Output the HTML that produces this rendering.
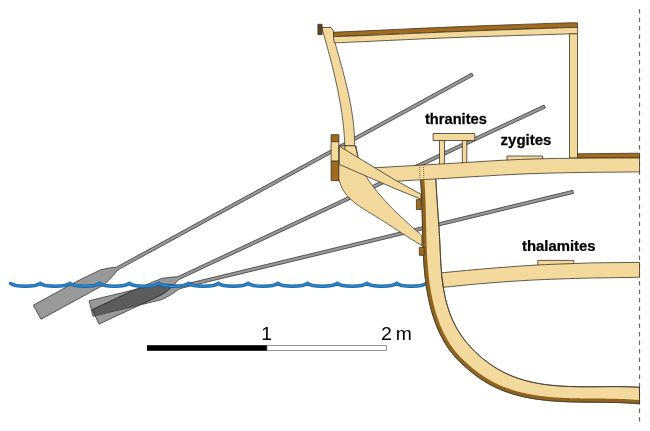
<!DOCTYPE html>
<html><head><meta charset="utf-8"><style>
html,body{margin:0;padding:0;background:#fff;}
svg{display:block;}
text{font-family:"Liberation Sans",sans-serif;}
</style></head><body>
<svg width="650" height="431" viewBox="0 0 650 431">
<defs>
<path id="oar" d="M0 -8 L50 -8 L76 -6.8 Q86 -4 91 -1.55 L496 -1.55 L496 1.55 L91 1.55 Q78 7 70 8 L0 8 Z"/>
<clipPath id="hullclip"><path d="M419.50 167.00 L419.49 168.56 L419.66 170.04 L419.83 171.53 L419.98 173.01 L420.13 174.50 L420.27 175.99 L420.41 177.48 L420.54 178.97 L420.66 180.47 L420.77 181.96 L420.88 183.46 L420.99 184.96 L421.09 186.45 L421.18 187.95 L421.27 189.45 L421.35 190.96 L421.43 192.46 L421.50 193.96 L421.57 195.47 L421.64 196.97 L421.70 198.48 L421.76 199.98 L421.81 201.49 L421.87 203.00 L421.92 204.51 L421.96 206.02 L422.01 207.53 L422.05 209.04 L422.09 210.55 L422.13 212.07 L422.16 213.58 L422.20 215.09 L422.23 216.60 L422.26 218.12 L422.30 219.63 L422.33 221.15 L422.36 222.66 L422.39 224.18 L422.42 225.69 L422.45 227.21 L422.49 228.72 L422.52 230.24 L422.55 231.75 L422.59 233.27 L422.63 234.78 L422.66 236.30 L422.71 237.81 L422.75 239.33 L422.79 240.84 L422.84 242.36 L422.89 243.87 L422.94 245.38 L423.00 246.90 L423.06 248.41 L423.12 249.92 L423.19 251.43 L423.26 252.95 L423.34 254.46 L423.42 255.97 L423.50 257.48 L423.59 258.99 L423.69 260.49 L423.79 262.00 L423.90 263.51 L424.01 265.01 L424.13 266.52 L424.25 268.02 L424.38 269.52 L424.52 271.03 L424.66 272.53 L424.81 274.03 L424.97 275.53 L425.14 277.02 L425.31 278.52 L425.50 280.01 L425.69 281.51 L425.89 283.00 L426.09 284.49 L426.31 285.98 L426.54 287.47 L426.77 288.96 L427.01 290.44 L427.27 291.93 L427.53 293.41 L427.81 294.89 L428.09 296.37 L428.39 297.84 L428.69 299.32 L429.01 300.79 L429.34 302.27 L429.68 303.73 L430.03 305.20 L430.40 306.67 L430.77 308.13 L431.16 309.58 L431.56 311.04 L431.98 312.49 L432.40 313.93 L432.85 315.37 L433.30 316.81 L433.77 318.24 L434.25 319.66 L434.75 321.08 L435.26 322.50 L435.79 323.90 L436.33 325.30 L436.89 326.69 L437.46 328.08 L438.05 329.46 L438.66 330.83 L439.28 332.19 L439.92 333.54 L440.57 334.88 L441.24 336.22 L441.93 337.54 L442.64 338.86 L443.37 340.16 L444.11 341.46 L444.87 342.74 L445.65 344.02 L446.45 345.28 L447.27 346.53 L448.11 347.77 L448.96 348.99 L449.84 350.21 L450.74 351.41 L451.65 352.59 L452.59 353.77 L453.55 354.93 L454.53 356.08 L455.53 357.21 L456.55 358.33 L457.59 359.43 L458.65 360.52 L459.73 361.60 L460.82 362.66 L461.93 363.72 L463.04 364.76 L464.17 365.79 L465.31 366.81 L466.46 367.82 L467.62 368.82 L468.78 369.82 L469.95 370.80 L471.13 371.76 L472.32 372.72 L473.51 373.66 L474.72 374.59 L475.93 375.51 L477.16 376.41 L478.39 377.29 L479.64 378.16 L480.89 379.01 L482.16 379.84 L483.43 380.66 L484.72 381.46 L486.01 382.24 L487.31 383.01 L488.62 383.75 L489.94 384.48 L491.26 385.19 L492.59 385.88 L493.93 386.56 L495.28 387.21 L496.63 387.85 L497.99 388.47 L499.36 389.07 L500.73 389.65 L502.11 390.21 L503.49 390.76 L504.88 391.29 L506.28 391.80 L507.68 392.29 L509.09 392.77 L510.50 393.24 L511.92 393.68 L513.34 394.12 L514.77 394.53 L516.20 394.94 L517.64 395.32 L519.08 395.70 L520.53 396.05 L521.98 396.40 L523.44 396.73 L524.90 397.05 L526.36 397.36 L527.83 397.65 L529.30 397.93 L530.78 398.20 L532.26 398.45 L533.74 398.70 L535.23 398.93 L536.72 399.15 L538.21 399.37 L539.71 399.57 L541.21 399.76 L542.71 399.94 L544.21 400.11 L545.72 400.28 L547.23 400.43 L548.74 400.57 L550.26 400.71 L551.77 400.84 L553.29 400.96 L554.81 401.07 L556.34 401.18 L557.86 401.27 L559.39 401.36 L560.91 401.45 L562.44 401.53 L563.97 401.60 L565.50 401.67 L567.03 401.73 L568.56 401.78 L570.10 401.84 L571.63 401.88 L573.16 401.93 L574.70 401.96 L576.23 402.00 L577.77 402.03 L579.30 402.06 L580.84 402.08 L582.37 402.11 L583.91 402.13 L585.44 402.15 L586.97 402.16 L588.51 402.18 L590.04 402.19 L591.57 402.20 L593.10 402.22 L594.63 402.23 L596.15 402.24 L597.68 402.25 L599.20 402.26 L600.73 402.28 L602.25 402.29 L603.77 402.31 L605.28 402.32 L606.80 402.34 L608.31 402.36 L609.82 402.39 L611.33 402.41 L612.84 402.44 L614.34 402.48 L615.84 402.51 L617.34 402.55 L618.83 402.60 L620.32 402.64 L621.81 402.70 L623.29 402.76 L624.77 402.82 L626.25 402.89 L627.73 402.96 L629.20 403.04 L630.66 403.13 L632.12 403.22 L633.58 403.32 L635.03 403.43 L636.48 403.55 L637.93 403.67 L639.50 403.70 L639.50 387.30 L637.96 387.22 L636.51 387.13 L635.04 387.06 L633.58 386.99 L632.11 386.93 L630.63 386.87 L629.15 386.82 L627.67 386.78 L626.18 386.74 L624.69 386.71 L623.20 386.69 L621.71 386.67 L620.21 386.65 L618.71 386.64 L617.20 386.63 L615.70 386.62 L614.19 386.62 L612.67 386.62 L611.16 386.63 L609.64 386.63 L608.13 386.64 L606.60 386.65 L605.08 386.66 L603.56 386.67 L602.03 386.68 L600.51 386.70 L598.98 386.71 L597.45 386.72 L595.92 386.73 L594.39 386.74 L592.86 386.75 L591.32 386.76 L589.79 386.76 L588.26 386.77 L586.72 386.77 L585.19 386.76 L583.66 386.76 L582.12 386.75 L580.59 386.73 L579.06 386.72 L577.52 386.69 L575.99 386.67 L574.46 386.63 L572.93 386.59 L571.40 386.55 L569.87 386.50 L568.34 386.44 L566.81 386.38 L565.29 386.31 L563.77 386.23 L562.24 386.14 L560.72 386.05 L559.21 385.94 L557.69 385.83 L556.18 385.71 L554.67 385.58 L553.16 385.44 L551.65 385.29 L550.15 385.13 L548.65 384.96 L547.15 384.77 L545.65 384.58 L544.16 384.37 L542.67 384.15 L541.19 383.92 L539.71 383.68 L538.23 383.42 L536.76 383.15 L535.29 382.87 L533.82 382.57 L532.36 382.26 L530.90 381.94 L529.45 381.59 L528.00 381.24 L526.56 380.86 L525.12 380.48 L523.68 380.07 L522.25 379.65 L520.83 379.21 L519.41 378.76 L518.00 378.28 L516.59 377.79 L515.19 377.28 L513.79 376.75 L512.40 376.21 L511.02 375.64 L509.64 375.06 L508.27 374.45 L506.90 373.82 L505.54 373.18 L504.19 372.51 L502.85 371.83 L501.51 371.13 L500.18 370.40 L498.86 369.66 L497.55 368.90 L496.25 368.12 L494.95 367.33 L493.67 366.51 L492.39 365.68 L491.13 364.83 L489.87 363.97 L488.63 363.09 L487.39 362.19 L486.17 361.27 L484.96 360.34 L483.76 359.40 L482.57 358.43 L481.40 357.46 L480.24 356.47 L479.09 355.46 L477.95 354.44 L476.83 353.40 L475.72 352.35 L474.62 351.29 L473.54 350.21 L472.48 349.12 L471.43 348.02 L470.39 346.90 L469.37 345.78 L468.37 344.64 L467.38 343.48 L466.41 342.32 L465.46 341.14 L464.53 339.95 L463.61 338.75 L462.72 337.53 L461.84 336.31 L460.98 335.07 L460.14 333.82 L459.33 332.56 L458.53 331.29 L457.76 330.01 L457.00 328.72 L456.27 327.41 L455.56 326.10 L454.87 324.77 L454.20 323.44 L453.56 322.10 L452.93 320.75 L452.32 319.38 L451.73 318.01 L451.16 316.64 L450.61 315.25 L450.08 313.85 L449.57 312.45 L449.07 311.04 L448.59 309.63 L448.13 308.20 L447.69 306.77 L447.26 305.34 L446.85 303.89 L446.46 302.45 L446.08 300.99 L445.72 299.53 L445.38 298.07 L445.04 296.60 L444.73 295.13 L444.43 293.65 L444.14 292.17 L443.86 290.69 L443.60 289.20 L443.36 287.71 L443.12 286.22 L442.90 284.72 L442.69 283.22 L442.50 281.72 L442.31 280.22 L442.14 278.72 L441.97 277.21 L441.82 275.71 L441.67 274.20 L441.53 272.69 L441.41 271.17 L441.28 269.66 L441.17 268.15 L441.06 266.63 L440.96 265.12 L440.87 263.60 L440.78 262.08 L440.69 260.56 L440.61 259.05 L440.53 257.53 L440.45 256.01 L440.38 254.49 L440.31 252.97 L440.24 251.45 L440.17 249.93 L440.10 248.41 L440.03 246.90 L439.97 245.38 L439.89 243.86 L439.82 242.35 L439.75 240.83 L439.67 239.32 L439.59 237.81 L439.51 236.30 L439.42 234.79 L439.33 233.28 L439.24 231.77 L439.15 230.26 L439.05 228.75 L438.96 227.25 L438.86 225.74 L438.76 224.24 L438.66 222.73 L438.56 221.23 L438.45 219.72 L438.35 218.22 L438.24 216.72 L438.14 215.22 L438.03 213.71 L437.92 212.21 L437.82 210.71 L437.71 209.21 L437.60 207.71 L437.50 206.21 L437.39 204.70 L437.29 203.20 L437.18 201.70 L437.08 200.20 L436.98 198.70 L436.88 197.19 L436.78 195.69 L436.69 194.19 L436.59 192.68 L436.50 191.18 L436.41 189.67 L436.32 188.17 L436.24 186.66 L436.15 185.16 L436.07 183.65 L436.00 182.14 L435.92 180.63 L435.85 179.12 L435.79 177.61 L435.72 176.10 L435.66 174.58 L435.61 173.07 L435.56 171.55 L435.51 170.03 L435.47 168.52 L435.50 167.00 Z"/></clipPath>
</defs>
<rect width="650" height="431" fill="#fff"/>
<line x1="639.5" y1="9" x2="639.5" y2="422" stroke="#6a6a6a" stroke-width="1.2" stroke-dasharray="4.5 4"/>

<g fill="#000" fill-opacity="0.4" stroke="#444" stroke-width="0.8">
<use href="#oar" transform="translate(37.15 312.2) rotate(-28.64)"/>
<use href="#oar" transform="translate(95.65 316.85) rotate(-25.1)"/>
<use href="#oar" transform="translate(91.05 308.5) rotate(-13.6)"/>
</g>
<path fill="none" stroke="#1d65a6" stroke-width="3.3" stroke-linejoin="miter" stroke-linecap="round" stroke-miterlimit="4" d="M10.5 283.4 C15.5 287.2 35.2 287.2 40.2 283.4 C45.2 287.2 64.9 287.2 69.9 283.4 C74.9 287.2 94.6 287.2 99.6 283.4 C104.6 287.2 124.3 287.2 129.3 283.4 C134.3 287.2 154.0 287.2 159.0 283.4 C164.0 287.2 183.7 287.2 188.7 283.4 C193.7 287.2 213.4 287.2 218.4 283.4 C223.4 287.2 243.1 287.2 248.1 283.4 C253.1 287.2 272.8 287.2 277.8 283.4 C282.8 287.2 302.5 287.2 307.5 283.4 C312.5 287.2 332.2 287.2 337.2 283.4 C342.2 287.2 361.9 287.2 366.9 283.4 C371.9 287.2 391.6 287.2 396.6 283.4 C401.6 287.2 421.3 287.2 426.3 283.4 "/>
<path fill="none" stroke="#2a8ccc" stroke-width="1.5" stroke-linejoin="miter" stroke-linecap="round" stroke-miterlimit="4" d="M10.5 283.4 C15.5 287.2 35.2 287.2 40.2 283.4 C45.2 287.2 64.9 287.2 69.9 283.4 C74.9 287.2 94.6 287.2 99.6 283.4 C104.6 287.2 124.3 287.2 129.3 283.4 C134.3 287.2 154.0 287.2 159.0 283.4 C164.0 287.2 183.7 287.2 188.7 283.4 C193.7 287.2 213.4 287.2 218.4 283.4 C223.4 287.2 243.1 287.2 248.1 283.4 C253.1 287.2 272.8 287.2 277.8 283.4 C282.8 287.2 302.5 287.2 307.5 283.4 C312.5 287.2 332.2 287.2 337.2 283.4 C342.2 287.2 361.9 287.2 366.9 283.4 C371.9 287.2 391.6 287.2 396.6 283.4 C401.6 287.2 421.3 287.2 426.3 283.4 "/>
<g stroke="#3d3426" stroke-width="0.8" stroke-linejoin="round">
<path fill="#f3da9c" d="M321.8 27.5 L331 27.5 L333.5 31 L334 36 L334.33 40.00 L334.73 41.46 L335.14 42.93 L335.54 44.39 L335.95 45.86 L336.36 47.33 L336.76 48.79 L337.17 50.26 L337.58 51.73 L337.99 53.20 L338.40 54.67 L338.81 56.14 L339.21 57.61 L339.62 59.08 L340.02 60.55 L340.43 62.02 L340.83 63.49 L341.23 64.97 L341.63 66.44 L342.03 67.92 L342.43 69.39 L342.82 70.87 L343.21 72.35 L343.59 73.82 L343.98 75.30 L344.36 76.78 L344.74 78.26 L345.11 79.74 L345.48 81.23 L345.84 82.71 L346.20 84.19 L346.56 85.68 L346.91 87.16 L347.26 88.65 L347.60 90.14 L347.93 91.63 L348.26 93.12 L348.59 94.61 L348.91 96.10 L349.22 97.59 L349.52 99.09 L349.82 100.58 L350.11 102.08 L350.40 103.58 L350.68 105.07 L350.95 106.57 L351.21 108.07 L351.46 109.58 L351.71 111.08 L351.94 112.58 L352.17 114.09 L352.39 115.59 L352.60 117.10 L352.80 118.61 L353.00 120.12 L353.18 121.63 L353.35 123.15 L353.51 124.66 L353.66 126.18 L353.81 127.69 L353.94 129.21 L354.06 130.73 L354.17 132.25 L354.26 133.78 L354.35 135.30 L354.42 136.83 L354.48 138.35 L354.53 139.88 L354.57 141.41 L354.60 142.94 L354.61 144.48 L354.61 146.01  L344.9 146 L344.86 146.02 L344.80 144.49 L344.72 142.96 L344.65 141.43 L344.56 139.91 L344.46 138.38 L344.36 136.85 L344.25 135.33 L344.13 133.81 L344.00 132.28 L343.87 130.76 L343.73 129.24 L343.58 127.72 L343.42 126.21 L343.26 124.69 L343.09 123.17 L342.91 121.66 L342.73 120.15 L342.54 118.63 L342.34 117.12 L342.14 115.61 L341.92 114.10 L341.71 112.59 L341.48 111.08 L341.25 109.58 L341.02 108.07 L340.78 106.57 L340.53 105.07 L340.27 103.56 L340.01 102.06 L339.75 100.56 L339.48 99.06 L339.20 97.56 L338.92 96.06 L338.63 94.57 L338.34 93.07 L338.05 91.58 L337.74 90.08 L337.44 88.59 L337.13 87.10 L336.81 85.61 L336.49 84.12 L336.16 82.63 L335.83 81.14 L335.50 79.65 L335.16 78.16 L334.82 76.68 L334.47 75.19 L334.12 73.71 L333.77 72.22 L333.41 70.74 L333.05 69.26 L332.69 67.78 L332.32 66.30 L331.95 64.82 L331.58 63.34 L331.20 61.86 L330.82 60.39 L330.43 58.91 L330.05 57.44 L329.66 55.96 L329.27 54.49 L328.87 53.02 L328.48 51.54 L328.08 50.07 L327.68 48.60 L327.27 47.13 L326.87 45.66 L326.46 44.20 L326.05 42.73 L325.64 41.26 L325.23 39.79 L324.82 38.33 L324.40 36.86 L323.98 35.40 L323.57 33.94 L323.15 32.48 L322.73 31.01 L322.31 29.55 L321.88 28.09 Z"/>
<rect x="317.9" y="24.3" width="4.2" height="10.4" fill="#5e4322"/>
<path fill="#a06a1f" d="M333.50 32.20 C338.92 31.97 345.58 31.70 366.00 30.80 C386.42 29.90 424.33 28.07 456.00 26.80 C487.67 25.53 535.73 23.87 556.00 23.20 C576.27 22.53 574.00 22.87 577.60 22.80 L577.60 27.50 C574.00 27.58 576.27 27.32 556.00 28.00 C535.73 28.68 487.67 30.35 456.00 31.60 C424.33 32.85 386.42 34.67 366.00 35.50 C345.58 36.33 338.92 36.42 333.50 36.60 Z"/>
<path fill="#f3da9c" d="M333.50 36.60 C338.92 36.42 345.58 36.33 366.00 35.50 C386.42 34.67 424.33 32.85 456.00 31.60 C487.67 30.35 535.73 28.68 556.00 28.00 C576.27 27.32 574.00 27.58 577.60 27.50 L577.60 33.80 C574.00 33.88 576.27 33.68 556.00 34.30 C535.73 34.92 487.67 36.30 456.00 37.50 C424.33 38.70 386.28 40.60 366.00 41.50 C345.72 42.40 339.58 42.67 334.30 42.90 Z"/>
<rect x="569.5" y="33.8" width="8" height="124.2" fill="#f3da9c"/>
<path fill="#a06a1f" d="M577.5 153.8 L639.5 153.2 L639.5 158 L577.5 158 Z"/>
<rect x="331.1" y="134.7" width="7.8" height="7" fill="#a06a1f"/>
<rect x="331.1" y="141.7" width="7.8" height="19.5" fill="#f3da9c"/>
<rect x="331.1" y="161.2" width="7.8" height="19.5" fill="#a06a1f"/>
<path fill="#f3da9c" d="M419.50 167.00 L419.49 168.56 L419.66 170.04 L419.83 171.53 L419.98 173.01 L420.13 174.50 L420.27 175.99 L420.41 177.48 L420.54 178.97 L420.66 180.47 L420.77 181.96 L420.88 183.46 L420.99 184.96 L421.09 186.45 L421.18 187.95 L421.27 189.45 L421.35 190.96 L421.43 192.46 L421.50 193.96 L421.57 195.47 L421.64 196.97 L421.70 198.48 L421.76 199.98 L421.81 201.49 L421.87 203.00 L421.92 204.51 L421.96 206.02 L422.01 207.53 L422.05 209.04 L422.09 210.55 L422.13 212.07 L422.16 213.58 L422.20 215.09 L422.23 216.60 L422.26 218.12 L422.30 219.63 L422.33 221.15 L422.36 222.66 L422.39 224.18 L422.42 225.69 L422.45 227.21 L422.49 228.72 L422.52 230.24 L422.55 231.75 L422.59 233.27 L422.63 234.78 L422.66 236.30 L422.71 237.81 L422.75 239.33 L422.79 240.84 L422.84 242.36 L422.89 243.87 L422.94 245.38 L423.00 246.90 L423.06 248.41 L423.12 249.92 L423.19 251.43 L423.26 252.95 L423.34 254.46 L423.42 255.97 L423.50 257.48 L423.59 258.99 L423.69 260.49 L423.79 262.00 L423.90 263.51 L424.01 265.01 L424.13 266.52 L424.25 268.02 L424.38 269.52 L424.52 271.03 L424.66 272.53 L424.81 274.03 L424.97 275.53 L425.14 277.02 L425.31 278.52 L425.50 280.01 L425.69 281.51 L425.89 283.00 L426.09 284.49 L426.31 285.98 L426.54 287.47 L426.77 288.96 L427.01 290.44 L427.27 291.93 L427.53 293.41 L427.81 294.89 L428.09 296.37 L428.39 297.84 L428.69 299.32 L429.01 300.79 L429.34 302.27 L429.68 303.73 L430.03 305.20 L430.40 306.67 L430.77 308.13 L431.16 309.58 L431.56 311.04 L431.98 312.49 L432.40 313.93 L432.85 315.37 L433.30 316.81 L433.77 318.24 L434.25 319.66 L434.75 321.08 L435.26 322.50 L435.79 323.90 L436.33 325.30 L436.89 326.69 L437.46 328.08 L438.05 329.46 L438.66 330.83 L439.28 332.19 L439.92 333.54 L440.57 334.88 L441.24 336.22 L441.93 337.54 L442.64 338.86 L443.37 340.16 L444.11 341.46 L444.87 342.74 L445.65 344.02 L446.45 345.28 L447.27 346.53 L448.11 347.77 L448.96 348.99 L449.84 350.21 L450.74 351.41 L451.65 352.59 L452.59 353.77 L453.55 354.93 L454.53 356.08 L455.53 357.21 L456.55 358.33 L457.59 359.43 L458.65 360.52 L459.73 361.60 L460.82 362.66 L461.93 363.72 L463.04 364.76 L464.17 365.79 L465.31 366.81 L466.46 367.82 L467.62 368.82 L468.78 369.82 L469.95 370.80 L471.13 371.76 L472.32 372.72 L473.51 373.66 L474.72 374.59 L475.93 375.51 L477.16 376.41 L478.39 377.29 L479.64 378.16 L480.89 379.01 L482.16 379.84 L483.43 380.66 L484.72 381.46 L486.01 382.24 L487.31 383.01 L488.62 383.75 L489.94 384.48 L491.26 385.19 L492.59 385.88 L493.93 386.56 L495.28 387.21 L496.63 387.85 L497.99 388.47 L499.36 389.07 L500.73 389.65 L502.11 390.21 L503.49 390.76 L504.88 391.29 L506.28 391.80 L507.68 392.29 L509.09 392.77 L510.50 393.24 L511.92 393.68 L513.34 394.12 L514.77 394.53 L516.20 394.94 L517.64 395.32 L519.08 395.70 L520.53 396.05 L521.98 396.40 L523.44 396.73 L524.90 397.05 L526.36 397.36 L527.83 397.65 L529.30 397.93 L530.78 398.20 L532.26 398.45 L533.74 398.70 L535.23 398.93 L536.72 399.15 L538.21 399.37 L539.71 399.57 L541.21 399.76 L542.71 399.94 L544.21 400.11 L545.72 400.28 L547.23 400.43 L548.74 400.57 L550.26 400.71 L551.77 400.84 L553.29 400.96 L554.81 401.07 L556.34 401.18 L557.86 401.27 L559.39 401.36 L560.91 401.45 L562.44 401.53 L563.97 401.60 L565.50 401.67 L567.03 401.73 L568.56 401.78 L570.10 401.84 L571.63 401.88 L573.16 401.93 L574.70 401.96 L576.23 402.00 L577.77 402.03 L579.30 402.06 L580.84 402.08 L582.37 402.11 L583.91 402.13 L585.44 402.15 L586.97 402.16 L588.51 402.18 L590.04 402.19 L591.57 402.20 L593.10 402.22 L594.63 402.23 L596.15 402.24 L597.68 402.25 L599.20 402.26 L600.73 402.28 L602.25 402.29 L603.77 402.31 L605.28 402.32 L606.80 402.34 L608.31 402.36 L609.82 402.39 L611.33 402.41 L612.84 402.44 L614.34 402.48 L615.84 402.51 L617.34 402.55 L618.83 402.60 L620.32 402.64 L621.81 402.70 L623.29 402.76 L624.77 402.82 L626.25 402.89 L627.73 402.96 L629.20 403.04 L630.66 403.13 L632.12 403.22 L633.58 403.32 L635.03 403.43 L636.48 403.55 L637.93 403.67 L639.50 403.70 L639.50 387.30 L637.96 387.22 L636.51 387.13 L635.04 387.06 L633.58 386.99 L632.11 386.93 L630.63 386.87 L629.15 386.82 L627.67 386.78 L626.18 386.74 L624.69 386.71 L623.20 386.69 L621.71 386.67 L620.21 386.65 L618.71 386.64 L617.20 386.63 L615.70 386.62 L614.19 386.62 L612.67 386.62 L611.16 386.63 L609.64 386.63 L608.13 386.64 L606.60 386.65 L605.08 386.66 L603.56 386.67 L602.03 386.68 L600.51 386.70 L598.98 386.71 L597.45 386.72 L595.92 386.73 L594.39 386.74 L592.86 386.75 L591.32 386.76 L589.79 386.76 L588.26 386.77 L586.72 386.77 L585.19 386.76 L583.66 386.76 L582.12 386.75 L580.59 386.73 L579.06 386.72 L577.52 386.69 L575.99 386.67 L574.46 386.63 L572.93 386.59 L571.40 386.55 L569.87 386.50 L568.34 386.44 L566.81 386.38 L565.29 386.31 L563.77 386.23 L562.24 386.14 L560.72 386.05 L559.21 385.94 L557.69 385.83 L556.18 385.71 L554.67 385.58 L553.16 385.44 L551.65 385.29 L550.15 385.13 L548.65 384.96 L547.15 384.77 L545.65 384.58 L544.16 384.37 L542.67 384.15 L541.19 383.92 L539.71 383.68 L538.23 383.42 L536.76 383.15 L535.29 382.87 L533.82 382.57 L532.36 382.26 L530.90 381.94 L529.45 381.59 L528.00 381.24 L526.56 380.86 L525.12 380.48 L523.68 380.07 L522.25 379.65 L520.83 379.21 L519.41 378.76 L518.00 378.28 L516.59 377.79 L515.19 377.28 L513.79 376.75 L512.40 376.21 L511.02 375.64 L509.64 375.06 L508.27 374.45 L506.90 373.82 L505.54 373.18 L504.19 372.51 L502.85 371.83 L501.51 371.13 L500.18 370.40 L498.86 369.66 L497.55 368.90 L496.25 368.12 L494.95 367.33 L493.67 366.51 L492.39 365.68 L491.13 364.83 L489.87 363.97 L488.63 363.09 L487.39 362.19 L486.17 361.27 L484.96 360.34 L483.76 359.40 L482.57 358.43 L481.40 357.46 L480.24 356.47 L479.09 355.46 L477.95 354.44 L476.83 353.40 L475.72 352.35 L474.62 351.29 L473.54 350.21 L472.48 349.12 L471.43 348.02 L470.39 346.90 L469.37 345.78 L468.37 344.64 L467.38 343.48 L466.41 342.32 L465.46 341.14 L464.53 339.95 L463.61 338.75 L462.72 337.53 L461.84 336.31 L460.98 335.07 L460.14 333.82 L459.33 332.56 L458.53 331.29 L457.76 330.01 L457.00 328.72 L456.27 327.41 L455.56 326.10 L454.87 324.77 L454.20 323.44 L453.56 322.10 L452.93 320.75 L452.32 319.38 L451.73 318.01 L451.16 316.64 L450.61 315.25 L450.08 313.85 L449.57 312.45 L449.07 311.04 L448.59 309.63 L448.13 308.20 L447.69 306.77 L447.26 305.34 L446.85 303.89 L446.46 302.45 L446.08 300.99 L445.72 299.53 L445.38 298.07 L445.04 296.60 L444.73 295.13 L444.43 293.65 L444.14 292.17 L443.86 290.69 L443.60 289.20 L443.36 287.71 L443.12 286.22 L442.90 284.72 L442.69 283.22 L442.50 281.72 L442.31 280.22 L442.14 278.72 L441.97 277.21 L441.82 275.71 L441.67 274.20 L441.53 272.69 L441.41 271.17 L441.28 269.66 L441.17 268.15 L441.06 266.63 L440.96 265.12 L440.87 263.60 L440.78 262.08 L440.69 260.56 L440.61 259.05 L440.53 257.53 L440.45 256.01 L440.38 254.49 L440.31 252.97 L440.24 251.45 L440.17 249.93 L440.10 248.41 L440.03 246.90 L439.97 245.38 L439.89 243.86 L439.82 242.35 L439.75 240.83 L439.67 239.32 L439.59 237.81 L439.51 236.30 L439.42 234.79 L439.33 233.28 L439.24 231.77 L439.15 230.26 L439.05 228.75 L438.96 227.25 L438.86 225.74 L438.76 224.24 L438.66 222.73 L438.56 221.23 L438.45 219.72 L438.35 218.22 L438.24 216.72 L438.14 215.22 L438.03 213.71 L437.92 212.21 L437.82 210.71 L437.71 209.21 L437.60 207.71 L437.50 206.21 L437.39 204.70 L437.29 203.20 L437.18 201.70 L437.08 200.20 L436.98 198.70 L436.88 197.19 L436.78 195.69 L436.69 194.19 L436.59 192.68 L436.50 191.18 L436.41 189.67 L436.32 188.17 L436.24 186.66 L436.15 185.16 L436.07 183.65 L436.00 182.14 L435.92 180.63 L435.85 179.12 L435.79 177.61 L435.72 176.10 L435.66 174.58 L435.61 173.07 L435.56 171.55 L435.51 170.03 L435.47 168.52 L435.50 167.00 Z"/>
</g>
<path d="M419.50 167.00 L419.49 168.56 L419.66 170.04 L419.83 171.53 L419.98 173.01 L420.13 174.50 L420.27 175.99 L420.41 177.48 L420.54 178.97 L420.66 180.47 L420.77 181.96 L420.88 183.46 L420.99 184.96 L421.09 186.45 L421.18 187.95 L421.27 189.45 L421.35 190.96 L421.43 192.46 L421.50 193.96 L421.57 195.47 L421.64 196.97 L421.70 198.48 L421.76 199.98 L421.81 201.49 L421.87 203.00 L421.92 204.51 L421.96 206.02 L422.01 207.53 L422.05 209.04 L422.09 210.55 L422.13 212.07 L422.16 213.58 L422.20 215.09 L422.23 216.60 L422.26 218.12 L422.30 219.63 L422.33 221.15 L422.36 222.66 L422.39 224.18 L422.42 225.69 L422.45 227.21 L422.49 228.72 L422.52 230.24 L422.55 231.75 L422.59 233.27 L422.63 234.78 L422.66 236.30 L422.71 237.81 L422.75 239.33 L422.79 240.84 L422.84 242.36 L422.89 243.87 L422.94 245.38 L423.00 246.90 L423.06 248.41 L423.12 249.92 L423.19 251.43 L423.26 252.95 L423.34 254.46 L423.42 255.97 L423.50 257.48 L423.59 258.99 L423.69 260.49 L423.79 262.00 L423.90 263.51 L424.01 265.01 L424.13 266.52 L424.25 268.02 L424.38 269.52 L424.52 271.03 L424.66 272.53 L424.81 274.03 L424.97 275.53 L425.14 277.02 L425.31 278.52 L425.50 280.01 L425.69 281.51 L425.89 283.00 L426.09 284.49 L426.31 285.98 L426.54 287.47 L426.77 288.96 L427.01 290.44 L427.27 291.93 L427.53 293.41 L427.81 294.89 L428.09 296.37 L428.39 297.84 L428.69 299.32 L429.01 300.79 L429.34 302.27 L429.68 303.73 L430.03 305.20 L430.40 306.67 L430.77 308.13 L431.16 309.58 L431.56 311.04 L431.98 312.49 L432.40 313.93 L432.85 315.37 L433.30 316.81 L433.77 318.24 L434.25 319.66 L434.75 321.08 L435.26 322.50 L435.79 323.90 L436.33 325.30 L436.89 326.69 L437.46 328.08 L438.05 329.46 L438.66 330.83 L439.28 332.19 L439.92 333.54 L440.57 334.88 L441.24 336.22 L441.93 337.54 L442.64 338.86 L443.37 340.16 L444.11 341.46 L444.87 342.74 L445.65 344.02 L446.45 345.28 L447.27 346.53 L448.11 347.77 L448.96 348.99 L449.84 350.21 L450.74 351.41 L451.65 352.59 L452.59 353.77 L453.55 354.93 L454.53 356.08 L455.53 357.21 L456.55 358.33 L457.59 359.43 L458.65 360.52 L459.73 361.60 L460.82 362.66 L461.93 363.72 L463.04 364.76 L464.17 365.79 L465.31 366.81 L466.46 367.82 L467.62 368.82 L468.78 369.82 L469.95 370.80 L471.13 371.76 L472.32 372.72 L473.51 373.66 L474.72 374.59 L475.93 375.51 L477.16 376.41 L478.39 377.29 L479.64 378.16 L480.89 379.01 L482.16 379.84 L483.43 380.66 L484.72 381.46 L486.01 382.24 L487.31 383.01 L488.62 383.75 L489.94 384.48 L491.26 385.19 L492.59 385.88 L493.93 386.56 L495.28 387.21 L496.63 387.85 L497.99 388.47 L499.36 389.07 L500.73 389.65 L502.11 390.21 L503.49 390.76 L504.88 391.29 L506.28 391.80 L507.68 392.29 L509.09 392.77 L510.50 393.24 L511.92 393.68 L513.34 394.12 L514.77 394.53 L516.20 394.94 L517.64 395.32 L519.08 395.70 L520.53 396.05 L521.98 396.40 L523.44 396.73 L524.90 397.05 L526.36 397.36 L527.83 397.65 L529.30 397.93 L530.78 398.20 L532.26 398.45 L533.74 398.70 L535.23 398.93 L536.72 399.15 L538.21 399.37 L539.71 399.57 L541.21 399.76 L542.71 399.94 L544.21 400.11 L545.72 400.28 L547.23 400.43 L548.74 400.57 L550.26 400.71 L551.77 400.84 L553.29 400.96 L554.81 401.07 L556.34 401.18 L557.86 401.27 L559.39 401.36 L560.91 401.45 L562.44 401.53 L563.97 401.60 L565.50 401.67 L567.03 401.73 L568.56 401.78 L570.10 401.84 L571.63 401.88 L573.16 401.93 L574.70 401.96 L576.23 402.00 L577.77 402.03 L579.30 402.06 L580.84 402.08 L582.37 402.11 L583.91 402.13 L585.44 402.15 L586.97 402.16 L588.51 402.18 L590.04 402.19 L591.57 402.20 L593.10 402.22 L594.63 402.23 L596.15 402.24 L597.68 402.25 L599.20 402.26 L600.73 402.28 L602.25 402.29 L603.77 402.31 L605.28 402.32 L606.80 402.34 L608.31 402.36 L609.82 402.39 L611.33 402.41 L612.84 402.44 L614.34 402.48 L615.84 402.51 L617.34 402.55 L618.83 402.60 L620.32 402.64 L621.81 402.70 L623.29 402.76 L624.77 402.82 L626.25 402.89 L627.73 402.96 L629.20 403.04 L630.66 403.13 L632.12 403.22 L633.58 403.32 L635.03 403.43 L636.48 403.55 L637.93 403.67 L639.50 403.70 " fill="none" stroke="#8f6420" stroke-width="7.4" clip-path="url(#hullclip)"/>
<path d="M419.50 167.00 L419.49 168.56 L419.66 170.04 L419.83 171.53 L419.98 173.01 L420.13 174.50 L420.27 175.99 L420.41 177.48 L420.54 178.97 L420.66 180.47 L420.77 181.96 L420.88 183.46 L420.99 184.96 L421.09 186.45 L421.18 187.95 L421.27 189.45 L421.35 190.96 L421.43 192.46 L421.50 193.96 L421.57 195.47 L421.64 196.97 L421.70 198.48 L421.76 199.98 L421.81 201.49 L421.87 203.00 L421.92 204.51 L421.96 206.02 L422.01 207.53 L422.05 209.04 L422.09 210.55 L422.13 212.07 L422.16 213.58 L422.20 215.09 L422.23 216.60 L422.26 218.12 L422.30 219.63 L422.33 221.15 L422.36 222.66 L422.39 224.18 L422.42 225.69 L422.45 227.21 L422.49 228.72 L422.52 230.24 L422.55 231.75 L422.59 233.27 L422.63 234.78 L422.66 236.30 L422.71 237.81 L422.75 239.33 L422.79 240.84 L422.84 242.36 L422.89 243.87 L422.94 245.38 L423.00 246.90 L423.06 248.41 L423.12 249.92 L423.19 251.43 L423.26 252.95 L423.34 254.46 L423.42 255.97 L423.50 257.48 L423.59 258.99 L423.69 260.49 L423.79 262.00 L423.90 263.51 L424.01 265.01 L424.13 266.52 L424.25 268.02 L424.38 269.52 L424.52 271.03 L424.66 272.53 L424.81 274.03 L424.97 275.53 L425.14 277.02 L425.31 278.52 L425.50 280.01 L425.69 281.51 L425.89 283.00 L426.09 284.49 L426.31 285.98 L426.54 287.47 L426.77 288.96 L427.01 290.44 L427.27 291.93 L427.53 293.41 L427.81 294.89 L428.09 296.37 L428.39 297.84 L428.69 299.32 L429.01 300.79 L429.34 302.27 L429.68 303.73 L430.03 305.20 L430.40 306.67 L430.77 308.13 L431.16 309.58 L431.56 311.04 L431.98 312.49 L432.40 313.93 L432.85 315.37 L433.30 316.81 L433.77 318.24 L434.25 319.66 L434.75 321.08 L435.26 322.50 L435.79 323.90 L436.33 325.30 L436.89 326.69 L437.46 328.08 L438.05 329.46 L438.66 330.83 L439.28 332.19 L439.92 333.54 L440.57 334.88 L441.24 336.22 L441.93 337.54 L442.64 338.86 L443.37 340.16 L444.11 341.46 L444.87 342.74 L445.65 344.02 L446.45 345.28 L447.27 346.53 L448.11 347.77 L448.96 348.99 L449.84 350.21 L450.74 351.41 L451.65 352.59 L452.59 353.77 L453.55 354.93 L454.53 356.08 L455.53 357.21 L456.55 358.33 L457.59 359.43 L458.65 360.52 L459.73 361.60 L460.82 362.66 L461.93 363.72 L463.04 364.76 L464.17 365.79 L465.31 366.81 L466.46 367.82 L467.62 368.82 L468.78 369.82 L469.95 370.80 L471.13 371.76 L472.32 372.72 L473.51 373.66 L474.72 374.59 L475.93 375.51 L477.16 376.41 L478.39 377.29 L479.64 378.16 L480.89 379.01 L482.16 379.84 L483.43 380.66 L484.72 381.46 L486.01 382.24 L487.31 383.01 L488.62 383.75 L489.94 384.48 L491.26 385.19 L492.59 385.88 L493.93 386.56 L495.28 387.21 L496.63 387.85 L497.99 388.47 L499.36 389.07 L500.73 389.65 L502.11 390.21 L503.49 390.76 L504.88 391.29 L506.28 391.80 L507.68 392.29 L509.09 392.77 L510.50 393.24 L511.92 393.68 L513.34 394.12 L514.77 394.53 L516.20 394.94 L517.64 395.32 L519.08 395.70 L520.53 396.05 L521.98 396.40 L523.44 396.73 L524.90 397.05 L526.36 397.36 L527.83 397.65 L529.30 397.93 L530.78 398.20 L532.26 398.45 L533.74 398.70 L535.23 398.93 L536.72 399.15 L538.21 399.37 L539.71 399.57 L541.21 399.76 L542.71 399.94 L544.21 400.11 L545.72 400.28 L547.23 400.43 L548.74 400.57 L550.26 400.71 L551.77 400.84 L553.29 400.96 L554.81 401.07 L556.34 401.18 L557.86 401.27 L559.39 401.36 L560.91 401.45 L562.44 401.53 L563.97 401.60 L565.50 401.67 L567.03 401.73 L568.56 401.78 L570.10 401.84 L571.63 401.88 L573.16 401.93 L574.70 401.96 L576.23 402.00 L577.77 402.03 L579.30 402.06 L580.84 402.08 L582.37 402.11 L583.91 402.13 L585.44 402.15 L586.97 402.16 L588.51 402.18 L590.04 402.19 L591.57 402.20 L593.10 402.22 L594.63 402.23 L596.15 402.24 L597.68 402.25 L599.20 402.26 L600.73 402.28 L602.25 402.29 L603.77 402.31 L605.28 402.32 L606.80 402.34 L608.31 402.36 L609.82 402.39 L611.33 402.41 L612.84 402.44 L614.34 402.48 L615.84 402.51 L617.34 402.55 L618.83 402.60 L620.32 402.64 L621.81 402.70 L623.29 402.76 L624.77 402.82 L626.25 402.89 L627.73 402.96 L629.20 403.04 L630.66 403.13 L632.12 403.22 L633.58 403.32 L635.03 403.43 L636.48 403.55 L637.93 403.67 L639.50 403.70 L639.50 387.30 L637.96 387.22 L636.51 387.13 L635.04 387.06 L633.58 386.99 L632.11 386.93 L630.63 386.87 L629.15 386.82 L627.67 386.78 L626.18 386.74 L624.69 386.71 L623.20 386.69 L621.71 386.67 L620.21 386.65 L618.71 386.64 L617.20 386.63 L615.70 386.62 L614.19 386.62 L612.67 386.62 L611.16 386.63 L609.64 386.63 L608.13 386.64 L606.60 386.65 L605.08 386.66 L603.56 386.67 L602.03 386.68 L600.51 386.70 L598.98 386.71 L597.45 386.72 L595.92 386.73 L594.39 386.74 L592.86 386.75 L591.32 386.76 L589.79 386.76 L588.26 386.77 L586.72 386.77 L585.19 386.76 L583.66 386.76 L582.12 386.75 L580.59 386.73 L579.06 386.72 L577.52 386.69 L575.99 386.67 L574.46 386.63 L572.93 386.59 L571.40 386.55 L569.87 386.50 L568.34 386.44 L566.81 386.38 L565.29 386.31 L563.77 386.23 L562.24 386.14 L560.72 386.05 L559.21 385.94 L557.69 385.83 L556.18 385.71 L554.67 385.58 L553.16 385.44 L551.65 385.29 L550.15 385.13 L548.65 384.96 L547.15 384.77 L545.65 384.58 L544.16 384.37 L542.67 384.15 L541.19 383.92 L539.71 383.68 L538.23 383.42 L536.76 383.15 L535.29 382.87 L533.82 382.57 L532.36 382.26 L530.90 381.94 L529.45 381.59 L528.00 381.24 L526.56 380.86 L525.12 380.48 L523.68 380.07 L522.25 379.65 L520.83 379.21 L519.41 378.76 L518.00 378.28 L516.59 377.79 L515.19 377.28 L513.79 376.75 L512.40 376.21 L511.02 375.64 L509.64 375.06 L508.27 374.45 L506.90 373.82 L505.54 373.18 L504.19 372.51 L502.85 371.83 L501.51 371.13 L500.18 370.40 L498.86 369.66 L497.55 368.90 L496.25 368.12 L494.95 367.33 L493.67 366.51 L492.39 365.68 L491.13 364.83 L489.87 363.97 L488.63 363.09 L487.39 362.19 L486.17 361.27 L484.96 360.34 L483.76 359.40 L482.57 358.43 L481.40 357.46 L480.24 356.47 L479.09 355.46 L477.95 354.44 L476.83 353.40 L475.72 352.35 L474.62 351.29 L473.54 350.21 L472.48 349.12 L471.43 348.02 L470.39 346.90 L469.37 345.78 L468.37 344.64 L467.38 343.48 L466.41 342.32 L465.46 341.14 L464.53 339.95 L463.61 338.75 L462.72 337.53 L461.84 336.31 L460.98 335.07 L460.14 333.82 L459.33 332.56 L458.53 331.29 L457.76 330.01 L457.00 328.72 L456.27 327.41 L455.56 326.10 L454.87 324.77 L454.20 323.44 L453.56 322.10 L452.93 320.75 L452.32 319.38 L451.73 318.01 L451.16 316.64 L450.61 315.25 L450.08 313.85 L449.57 312.45 L449.07 311.04 L448.59 309.63 L448.13 308.20 L447.69 306.77 L447.26 305.34 L446.85 303.89 L446.46 302.45 L446.08 300.99 L445.72 299.53 L445.38 298.07 L445.04 296.60 L444.73 295.13 L444.43 293.65 L444.14 292.17 L443.86 290.69 L443.60 289.20 L443.36 287.71 L443.12 286.22 L442.90 284.72 L442.69 283.22 L442.50 281.72 L442.31 280.22 L442.14 278.72 L441.97 277.21 L441.82 275.71 L441.67 274.20 L441.53 272.69 L441.41 271.17 L441.28 269.66 L441.17 268.15 L441.06 266.63 L440.96 265.12 L440.87 263.60 L440.78 262.08 L440.69 260.56 L440.61 259.05 L440.53 257.53 L440.45 256.01 L440.38 254.49 L440.31 252.97 L440.24 251.45 L440.17 249.93 L440.10 248.41 L440.03 246.90 L439.97 245.38 L439.89 243.86 L439.82 242.35 L439.75 240.83 L439.67 239.32 L439.59 237.81 L439.51 236.30 L439.42 234.79 L439.33 233.28 L439.24 231.77 L439.15 230.26 L439.05 228.75 L438.96 227.25 L438.86 225.74 L438.76 224.24 L438.66 222.73 L438.56 221.23 L438.45 219.72 L438.35 218.22 L438.24 216.72 L438.14 215.22 L438.03 213.71 L437.92 212.21 L437.82 210.71 L437.71 209.21 L437.60 207.71 L437.50 206.21 L437.39 204.70 L437.29 203.20 L437.18 201.70 L437.08 200.20 L436.98 198.70 L436.88 197.19 L436.78 195.69 L436.69 194.19 L436.59 192.68 L436.50 191.18 L436.41 189.67 L436.32 188.17 L436.24 186.66 L436.15 185.16 L436.07 183.65 L436.00 182.14 L435.92 180.63 L435.85 179.12 L435.79 177.61 L435.72 176.10 L435.66 174.58 L435.61 173.07 L435.56 171.55 L435.51 170.03 L435.47 168.52 L435.50 167.00 Z" fill="none" stroke="#3d3426" stroke-width="0.8"/>
<g stroke="#3d3426" stroke-width="0.8" stroke-linejoin="round">
<rect x="439.5" y="140" width="5" height="24.5" fill="#f3da9c"/>
<rect x="462.3" y="140" width="4.5" height="23.5" fill="#f3da9c"/>
<rect x="433.1" y="133.5" width="41.7" height="7" fill="#f3da9c"/>
<rect x="507" y="156" width="35.5" height="4.6" fill="#f3da9c"/>
<rect x="537.8" y="260.4" width="36" height="5.6" fill="#f3da9c"/>
<path fill="#f3da9c" d="M441.50 272.80 C448.75 272.13 469.92 270.05 485.00 268.80 C500.08 267.55 516.17 266.22 532.00 265.30 C547.83 264.38 568.67 263.72 580.00 263.30 C591.33 262.88 590.08 262.95 600.00 262.80 C609.92 262.65 632.92 262.47 639.50 262.40 L639.50 277.30 C632.92 277.40 609.92 277.73 600.00 277.90 C590.08 278.07 591.33 277.93 580.00 278.30 C568.67 278.67 547.83 279.27 532.00 280.10 C516.17 280.93 499.75 282.10 485.00 283.30 C470.25 284.50 450.42 286.63 443.50 287.30 Z"/>
<path fill="#f3da9c" d="M339 146 L356 146 L358.1 157.8 L363 170 L366.09 176.42 L366.93 177.72 L367.78 179.02 L368.65 180.30 L369.52 181.58 L370.41 182.84 L371.32 184.10 L372.23 185.34 L373.15 186.58 L374.09 187.80 L375.03 189.02 L375.99 190.23 L376.95 191.43 L377.93 192.62 L378.91 193.80 L379.90 194.98 L380.91 196.14 L381.92 197.30 L382.94 198.45 L383.97 199.60 L385.00 200.74 L386.05 201.87 L387.10 202.99 L388.16 204.11 L389.22 205.22 L390.29 206.32 L391.37 207.42 L392.45 208.52 L393.54 209.61 L394.64 210.69 L395.74 211.77 L396.85 212.84 L397.96 213.91 L399.07 214.98 L400.19 216.04 L401.31 217.09 L402.44 218.15 L403.57 219.20 L404.70 220.24 L405.84 221.29 L406.98 222.33 L408.12 223.37 L409.27 224.40 L410.41 225.43 L411.56 226.46 L412.71 227.49 L413.86 228.52 L415.01 229.55 L416.16 230.57 L417.31 231.60 L418.46 232.62 L419.61 233.64 L420.76 234.66 L421.91 235.68 L421.93 245.60 L420.59 244.81 L419.25 244.01 L417.93 243.21 L416.61 242.41 L415.29 241.60 L413.99 240.80 L412.68 239.99 L411.39 239.18 L410.10 238.37 L408.81 237.56 L407.53 236.74 L406.25 235.93 L404.97 235.11 L403.70 234.29 L402.42 233.47 L401.15 232.66 L399.89 231.84 L398.62 231.02 L397.35 230.19 L396.09 229.37 L394.82 228.55 L393.56 227.73 L392.29 226.91 L391.02 226.09 L389.75 225.27 L388.47 224.45 L387.20 223.62 L385.92 222.81 L384.64 221.99 L383.35 221.17 L382.06 220.35 L380.77 219.53 L379.47 218.72 L378.16 217.90 L376.85 217.09 L375.53 216.28 L374.21 215.47 L372.87 214.66 L371.54 213.85 L370.20 213.04 L368.86 212.23 L367.52 211.42 L366.19 210.59 L364.86 209.77 L363.54 208.93 L362.23 208.08 L360.94 207.22 L359.65 206.35 L358.39 205.47 L357.14 204.57 L355.91 203.65 L354.71 202.72 L353.53 201.77 L352.38 200.79 L351.26 199.79 L350.18 198.77 L349.12 197.73 L348.10 196.65 L347.12 195.55 L346.18 194.42 L345.29 193.26 L344.43 192.07 L343.63 190.85 L342.87 189.59 L342.17 188.29 L341.51 186.95 L340.92 185.58 L340.38 184.16 L339.90 182.71 L339.48 181.21 L339.13 179.66 L338.84 178.07 Z"/>
<path fill="#f3da9c" d="M344.9 145.8 L355.3 145.8 L358.1 157.8 L344.9 157.8 Z"/>
<path fill="#f3da9c" d="M370.00 168.00 C374.17 167.77 386.67 167.07 395.00 166.60 C403.33 166.13 410.00 165.77 420.00 165.20 C430.00 164.63 441.67 164.00 455.00 163.20 C468.33 162.40 485.83 161.13 500.00 160.40 C514.17 159.67 526.67 159.17 540.00 158.80 C553.33 158.43 563.42 158.33 580.00 158.20 C596.58 158.07 629.58 158.03 639.50 158.00 L639.50 171.90 C629.58 172.00 596.58 172.25 580.00 172.50 C563.42 172.75 551.67 173.05 540.00 173.40 C528.33 173.75 521.67 174.02 510.00 174.60 C498.33 175.18 481.67 176.22 470.00 176.90 C458.33 177.58 450.00 178.12 440.00 178.70 C430.00 179.28 418.00 179.92 410.00 180.40 C402.00 180.88 395.00 181.40 392.00 181.60 Z"/>
<path fill="#f3da9c" d="M339.3 146.2 L395 180 L421 194.3 L421 199.2 L395 188.6 L339.3 164.4 Z"/>
<rect x="416.4" y="199.6" width="4.8" height="10" fill="#a06a1f"/>
<rect x="419.3" y="247.3" width="4.8" height="8" fill="#a06a1f"/>
</g>
<path d="M419.6 167 L420 179 M423.5 167 L423.8 179" stroke="#3d3426" stroke-width="0.7" stroke-dasharray="1 1" fill="none"/>
<g font-family="Liberation Sans, sans-serif" font-weight="bold" font-size="14" fill="#000" stroke="#000" stroke-width="0.25" opacity="0.995">
<text transform="translate(424.9 123.8) scale(1.05 1)">thranites</text>
<text transform="translate(500.6 144.5) scale(1.072 1)">zygites</text>
<text transform="translate(522 251.4) scale(1.063 1)">thalamites</text>
</g>
<rect x="147" y="345.2" width="120" height="5.6" fill="#000"/>
<rect x="267" y="345.6" width="119.5" height="5" fill="#fff" stroke="#7a7a7a" stroke-width="0.8"/>
<g font-family="Liberation Sans, sans-serif" font-size="17.8" fill="#000" style="filter:grayscale(1)">
<text transform="translate(261.3 340.1) scale(1.08 1)">1</text>
<text transform="translate(381.1 340.1) scale(1.1 1)">2</text>
<text transform="translate(395.8 340.1) scale(1.085 1)">m</text>
</g>
</svg>
</body></html>
